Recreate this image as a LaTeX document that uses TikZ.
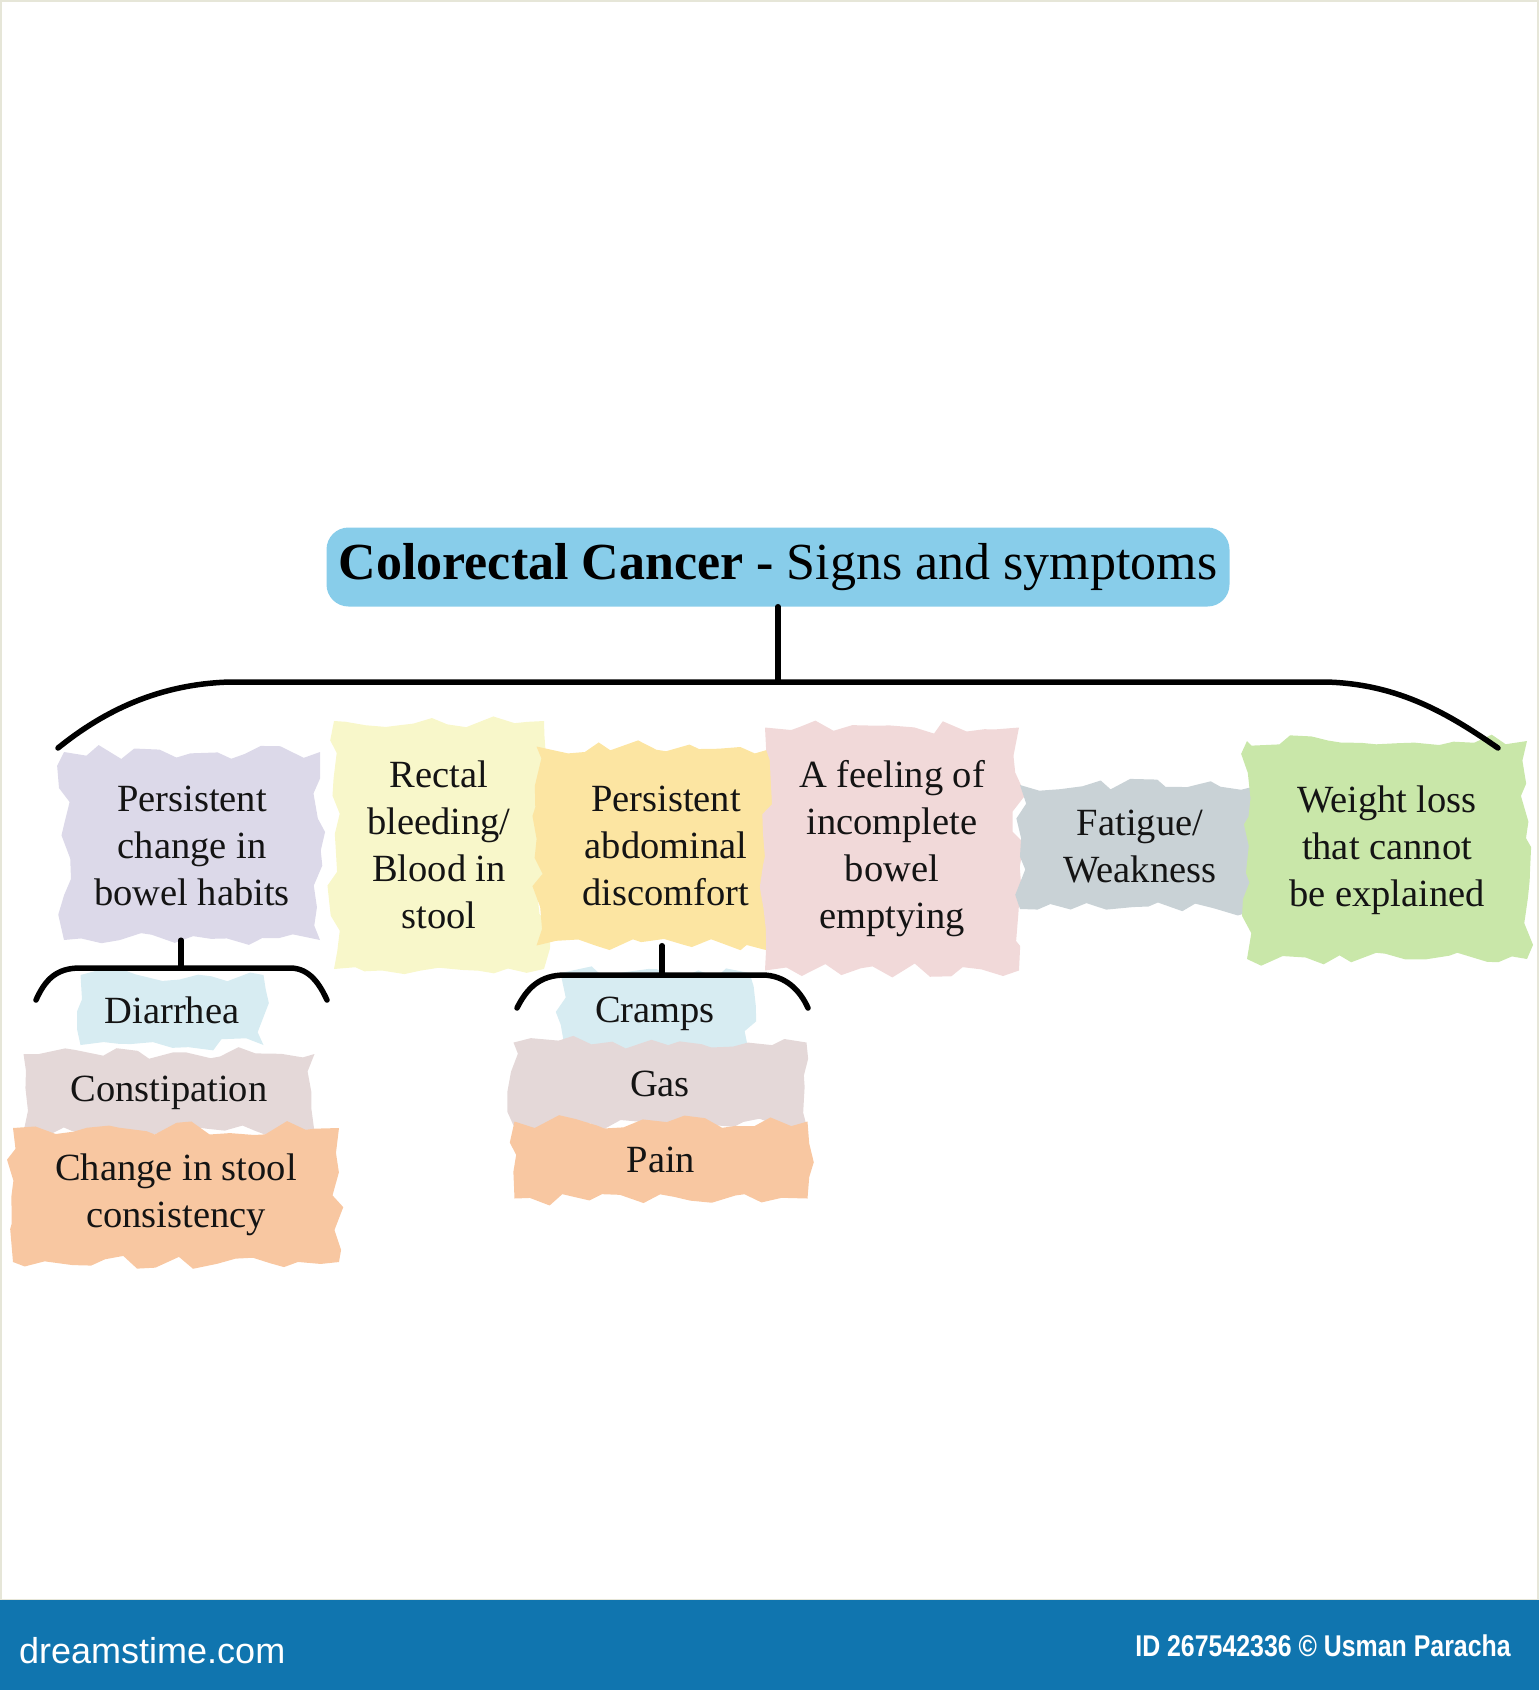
\documentclass[tikz,border=0pt]{standalone}
\usepackage{fontspec}
\setmainfont{Liberation Serif}
\newfontfamily\footfont{Liberation Sans}
\usetikzlibrary{decorations.pathmorphing}

\definecolor{skyhead}{HTML}{88CDEA}
\definecolor{lav}{HTML}{DCD9E9}
\definecolor{lemon}{HTML}{F8F7CA}
\definecolor{sun}{HTML}{FCE5A2}
\definecolor{rose}{HTML}{F1D9D9}
\definecolor{slate}{HTML}{C9D2D6}
\definecolor{lime}{HTML}{C9E7A9}
\definecolor{ice}{HTML}{D7ECF2}
\definecolor{mauve}{HTML}{E4D8D8}
\definecolor{peach}{HTML}{F8C7A1}
\definecolor{footblue}{HTML}{1075AF}
\definecolor{rim}{HTML}{E6E6D8}

\newcommand\bodyfont{\fontsize{38.5}{47}\selectfont}
\newcommand\headfont{\fontsize{52}{60}\selectfont}

\begin{document}
\begin{tikzpicture}[x=1pt, y=-1pt,
  sym/.style={align=center, font=\bodyfont, inner sep=0pt, text=black!92,
    decorate, decoration={random steps, segment length=18pt, amplitude=7pt}},
  brk/.style={line width=5.5pt, line cap=round, line join=round}]
\pgfmathsetseed{7}
\useasboundingbox (0,0) rectangle (1539,1690);
\draw[rim, line width=1.5pt] (1,1) rectangle (1538,1600);

\node[fill=skyhead, rounded corners=22pt, minimum width=903pt, minimum height=79pt, inner sep=0pt] (title) at (778,567)
  {\headfont\textbf{Colorectal Cancer -} Signs and symptoms};

\node[sym, fill=lav, minimum width=256pt, minimum height=188pt] (bowel) at (192,846) {Persistent\\change in\\bowel habits};
\node[sym, fill=lemon, minimum width=210pt, minimum height=248pt] (blood) at (439,845) {Rectal\\bleeding/\\Blood in\\stool};
\node[sym, fill=sun, minimum width=259pt, minimum height=199pt] (abdo) at (666,846) {Persistent\\abdominal\\discomfort};
\node[sym, fill=rose, minimum width=254pt, minimum height=243pt] (empty) at (892,849) {A feeling of\\incomplete\\bowel\\emptying};
\node[sym, fill=slate, minimum width=240pt, minimum height=124pt] (tired) at (1140,847) {Fatigue/\\Weakness};
\node[sym, fill=lime, minimum width=280pt, minimum height=218pt] (weight) at (1387,850) {Weight loss\\that cannot\\be explained};

\node[sym, fill=ice, minimum width=183pt, minimum height=70pt] (diar) at (172,1010) {Diarrhea};
\node[sym, fill=mauve, minimum width=291pt, minimum height=78pt] (const) at (169,1093) {Constipation};
\node[sym, fill=peach, minimum width=326pt, minimum height=134pt] (stool) at (176,1195) {Change in stool\\consistency};

\node[sym, fill=ice, minimum width=189pt, minimum height=82pt] (cramp) at (655,1014) {Cramps};
\node[sym, fill=mauve, minimum width=293pt, minimum height=83pt] (gas) at (660,1084) {Gas};
\node[sym, fill=peach, minimum width=293pt, minimum height=77pt] (pain) at (661,1160) {Pain};

\coordinate (bar) at (778,682);
\coordinate (mainL) at (58,748);
\coordinate (mainR) at (1498,748);
\draw[brk] (title) -- (bar);
\draw[brk] (mainL) .. controls (105,710) and (160,684) .. (230,682) -- (1326,682)
  .. controls (1400,684) and (1450,715) .. (mainR);

\coordinate (lbar) at (181,968);
\draw[brk] (bowel.south -| lbar) -- (lbar);
\draw[brk] (36,1000) .. controls (45,980) and (56,968) .. (80,968) -- (290,968)
  .. controls (310,968) and (320,985) .. (327,1000);

\coordinate (mbar) at (662,975);
\draw[brk] (abdo.south -| mbar) -- (mbar);
\draw[brk] (517,1008) .. controls (527,988) and (540,975) .. (565,975) -- (762,975)
  .. controls (785,975) and (800,990) .. (808,1008);

\fill[footblue] (0,1600) rectangle (1539,1690);
\node[text=white, font=\footfont\fontsize{36}{40}\selectfont, anchor=west, inner sep=0pt] (logo) at (19,1651) {dreamstime.com};
\node[text=white, font=\footfont\bfseries\fontsize{30}{34}\selectfont, anchor=east, inner sep=0pt] (credit) at (1511,1646)
  {\scalebox{0.83}[1]{ID 267542336 © Usman Paracha}};
\end{tikzpicture}
\end{document}
